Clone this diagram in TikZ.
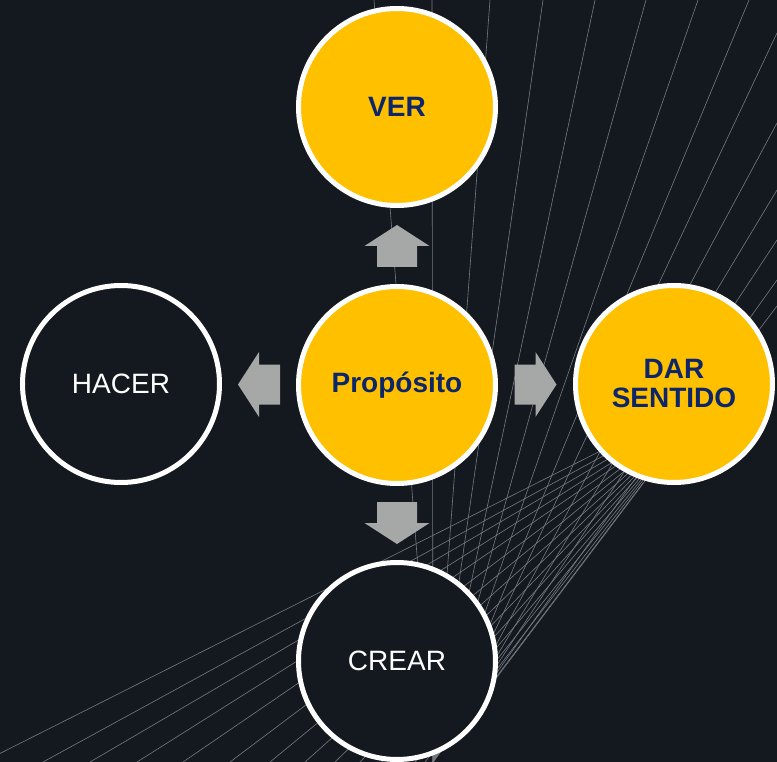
\documentclass[tikz,border=0pt]{standalone}
\usepackage{fontspec}
\setmainfont{Liberation Sans}
\usetikzlibrary{calc}
\definecolor{bg}{RGB}{19,25,31}
\definecolor{gold}{RGB}{255,192,0}
\definecolor{navy}{RGB}{12,38,105}
\definecolor{meshgray}{RGB}{118,123,128}
\definecolor{arrowgray}{RGB}{166,168,167}
\tikzset{
  circ/.style={circle, draw=white, line width=5pt, minimum size=197pt, inner sep=0pt, align=center},
  goldc/.style={circ, fill=gold, text=navy, font=\fontsize{28}{29}\selectfont\bfseries},
  darkc/.style={circ, fill=bg, text=white, font=\fontsize{28}{29}\selectfont},
  mesh/.style={draw=meshgray, line width=0.6pt},
  blockarrow/.pic={\fill[arrowgray] (-21,-20) -- (0,-20) -- (0,-32.5) -- (21,0) -- (0,32.5) -- (0,20) -- (-21,20) -- cycle;}
}
\begin{document}
\begin{tikzpicture}[x=1pt,y=-1pt]
\fill[bg] (0,0) rectangle (777,762);
\useasboundingbox (0,0) rectangle (777,762);
\begin{scope}
  \clip (0,0) rectangle (777,762);
  % family A: from top / right edge down to the bottom
  \foreach \tx in {374,432,490,543,595,646,698,749}
    \draw[mesh] (\tx,0) -- (433,762);
  \foreach \ty in {33,123,190,240,280,306}
    \draw[mesh] (777,\ty) -- (433,762);
  % family B: from bottom / left up to the right
  \foreach \bx/\ex/\ey in {-17/662/420, 43/660.6/424.5, 90/659.3/429, 137/657.9/433.5,
      183/656.6/438, 230/655.2/442.5, 270/653.9/447, 305/652.5/451.5, 335/651.1/456,
      360/649.8/460.5, 382/648.4/465, 400/647.1/469.5, 415/645.7/474, 425/644.4/478.5, 432/643/483}
    \draw[mesh] (\bx,762) -- (\ex,\ey);
\end{scope}

\node[goldc] (P) at (397,385) {Propósito};
\node[goldc] (V) at (397,107) {VER};
\node[darkc] (H) at (121,384) {HACER};
\node[goldc] (D) at (674,384) {DAR\\SENTIDO};
\node[darkc] (C) at (397,661) {CREAR};

\pic[rotate=90] at ($(P.north)!0.5!(V.south)$) {blockarrow};
\pic[rotate=180] at ($(P.west)!0.5!(H.east)$) {blockarrow};
\pic at ($(P.east)!0.5!(D.west)$) {blockarrow};
\pic[rotate=-90] at ($(P.south)!0.5!(C.north)$) {blockarrow};
\end{tikzpicture}
\end{document}
